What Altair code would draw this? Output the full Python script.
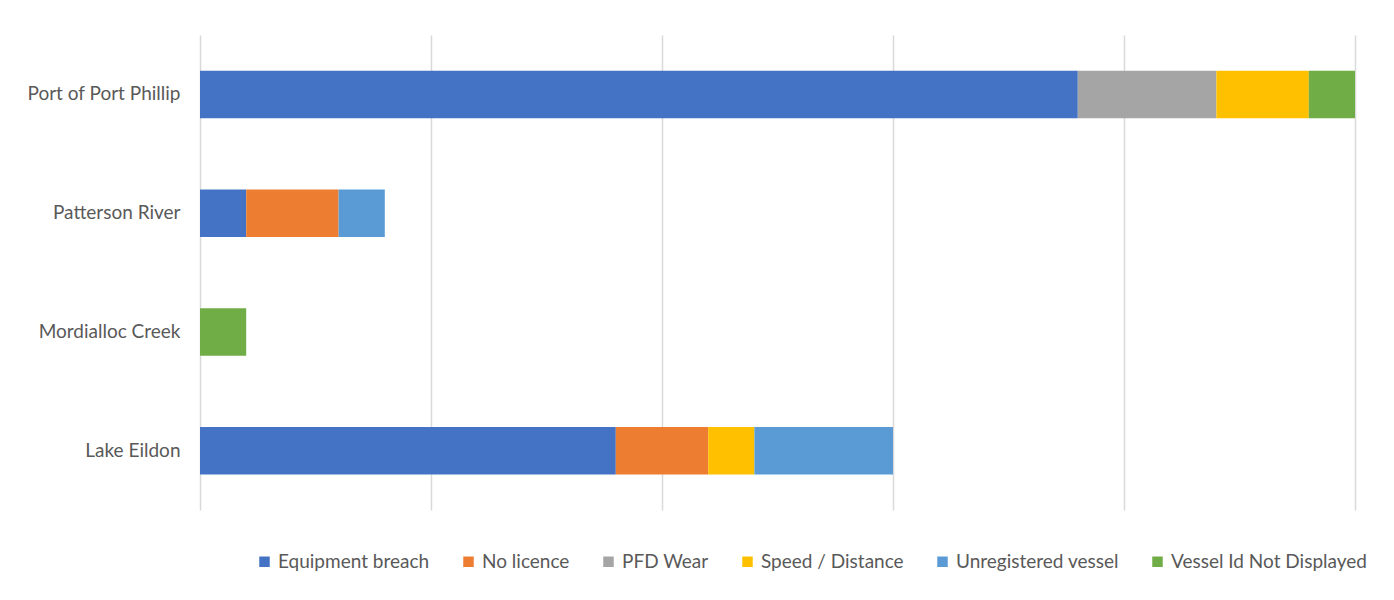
import altair as alt
import pandas as pd

locations = ["Port of Port Phillip", "Patterson River", "Mordialloc Creek", "Lake Eildon"]
categories = ["Equipment breach", "No licence", "PFD Wear", "Speed / Distance",
              "Unregistered vessel", "Vessel Id Not Displayed"]
colors = ["#4472C4", "#ED7D31", "#A5A5A5", "#FFC000", "#5B9BD5", "#70AD47"]

equipment_breach = [19, 1, 0, 9]
no_licence = [0, 2, 0, 2]
pfd_wear = [3, 0, 0, 0]
speed_distance = [2, 0, 0, 1]
unregistered_vessel = [0, 1, 0, 3]
vessel_id_not_displayed = [1, 0, 1, 0]

series = [equipment_breach, no_licence, pfd_wear, speed_distance,
          unregistered_vessel, vessel_id_not_displayed]

rows = []
for ci, (cat, vals) in enumerate(zip(categories, series)):
    for loc, v in zip(locations, vals):
        if v > 0:
            rows.append({"Location": loc, "Category": cat, "Value": v, "order": ci})
df = pd.DataFrame(rows)

FONT = "Lato"

chart = alt.Chart(df).mark_bar().encode(
    y=alt.Y("Location:N", sort=locations,
            scale=alt.Scale(paddingInner=0.6, paddingOuter=0.3),
            axis=alt.Axis(title=None, ticks=False, domain=False, grid=False,
                          labelFontSize=19, labelColor="#595959", labelFont=FONT,
                          labelPadding=20, labelLimit=300)),
    x=alt.X("sum(Value):Q", stack="zero",
            scale=alt.Scale(domain=[0, 25], nice=False),
            axis=alt.Axis(title=None, labels=False, ticks=False, domain=False,
                          values=[0, 5, 10, 15, 20, 25],
                          grid=True, gridColor="#d9d9d9", gridWidth=1.5)),
    color=alt.Color("Category:N", sort=categories,
                    scale=alt.Scale(domain=categories, range=colors),
                    legend=alt.Legend(title=None, orient="none", direction="horizontal",
                                      legendX=55, legendY=517, columns=6,
                                      symbolType="square", symbolSize=110,
                                      symbolStrokeWidth=0, columnPadding=29,
                                      labelFontSize=19, labelColor="#595959",
                                      labelFont=FONT, labelLimit=400, labelOffset=4)),
    order=alt.Order("order:Q", sort="ascending"),
).properties(
    width=1155, height=475,
    background="white",
    autosize=alt.AutoSizeParams(type="none"),
    padding={"left": 192, "top": 27, "right": 30, "bottom": 70},
).configure_view(stroke=None, strokeWidth=0)

chart.save("out.html", embed_options={"renderer": "svg", "actions": False})
